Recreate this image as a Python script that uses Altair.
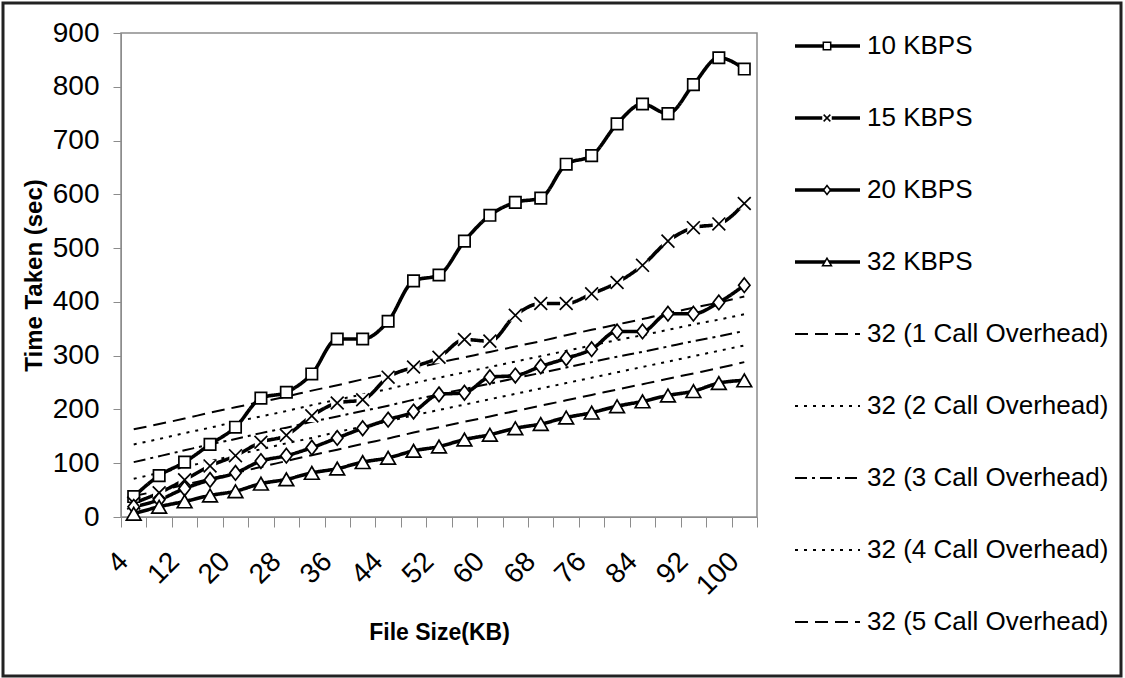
import altair as alt
import pandas as pd

# ---------------- data ----------------
file_sizes = [4, 8, 12, 16, 20, 24, 28, 32, 36, 40, 44, 48, 52,
              56, 60, 64, 68, 72, 76, 80, 84, 88, 92, 96, 100]

kbps10 = [38, 77, 102, 135, 167, 221, 232, 266, 331, 331, 364, 439, 450,
          513, 561, 585, 593, 656, 672, 731, 768, 750, 804, 854, 833]
kbps15 = [26, 45, 69, 95, 114, 139, 152, 188, 212, 218, 260, 279, 297,
          330, 327, 375, 397, 397, 415, 436, 468, 513, 538, 545, 583]
kbps20 = [19, 32, 53, 69, 82, 104, 114, 129, 147, 165, 181, 196, 228,
          231, 260, 263, 280, 295, 312, 345, 345, 378, 378, 399, 431]
kbps32 = [6, 19, 29, 40, 48, 62, 70, 82, 90, 102, 110, 123, 131,
          144, 153, 165, 173, 185, 194, 206, 215, 226, 234, 249, 254]
call1 = [39, 49, 60, 71, 82, 93, 104, 115, 125, 136, 146, 157, 167,
         177, 187, 197, 207, 217, 227, 237, 247, 257, 267, 277, 288]
call2 = [71, 82, 93, 104, 115, 126, 137, 147, 158, 168, 178, 189, 199,
         209, 219, 229, 239, 249, 259, 269, 279, 289, 299, 309, 319]
call3 = [102, 113, 124, 135, 145, 156, 166, 177, 187, 197, 207, 218, 228,
         238, 248, 258, 268, 278, 288, 298, 307, 317, 327, 336, 346]
call4 = [135, 145, 156, 166, 177, 187, 197, 208, 218, 228, 238, 249, 259,
         269, 279, 289, 299, 309, 319, 329, 338, 348, 358, 367, 377]
call5 = [163, 173, 183, 194, 204, 214, 224, 235, 245, 256, 266, 276, 287,
         297, 307, 317, 327, 338, 348, 358, 368, 379, 389, 399, 410]

main_names = ["10 KBPS", "15 KBPS", "20 KBPS", "32 KBPS"]
overhead_names = ["32 (1 Call Overhead)", "32 (2 Call Overhead)",
                  "32 (3 Call Overhead)", "32 (4 Call Overhead)",
                  "32 (5 Call Overhead)"]
series_names = main_names + overhead_names
series_values = [kbps10, kbps15, kbps20, kbps32, call1, call2, call3, call4, call5]

y_ticks = [0, 100, 200, 300, 400, 500, 600, 700, 800, 900]

# ---------------- styles ----------------
FONT = "Liberation Sans, Arial, sans-serif"
X_PATH = "M-1,-1L1,1M-1,1L1,-1"
DIAMOND_PATH = "M0,-1.15L0.9,0L0,1.15L-0.9,0Z"
dash_range = [[1, 0], [1, 0], [1, 0], [1, 0],
              [13, 7], [3, 6], [12, 5, 3, 5], [3, 6], [13, 7]]
marker_style = {
    "10 KBPS": ("square", 130, 55),
    "15 KBPS": (X_PATH, 165, 45),
    "20 KBPS": (DIAMOND_PATH, 160, 60),
    "32 KBPS": ("triangle-up", 215, 80),
}

rows = []
for name, vals in zip(series_names, series_values):
    for s, v in zip(file_sizes, vals):
        rows.append({"size": s, "series": name, "time": v})
df = pd.DataFrame(rows)
legend_df = pd.DataFrame({"series": series_names})

x_enc = alt.X(
    "size:O",
    bandPosition=0.5,
    scale=alt.Scale(type="band", domain=file_sizes, paddingInner=0, paddingOuter=0),
    axis=alt.Axis(
        title="File Size(KB)",
        labelAngle=-45, labelAlign="right", labelBaseline="middle",
        labelExpr="(datum.value - 4) % 8 == 0 ? datum.label : ''",
        tickBand="extent", tickSize=10, tickColor="#8c8c8c",
        domainColor="#8c8c8c", labelFont=FONT, labelFontSize=28,
        labelColor="black", labelPadding=30, labelOffset=-10,
        titleFont=FONT, titleFontSize=23, titleFontWeight="bold",
        titleColor="black", titlePadding=22, grid=False,
    ),
)
y_enc = alt.Y(
    "time:Q",
    scale=alt.Scale(domain=[0, 900], nice=False),
    axis=alt.Axis(
        title="Time Taken (sec)", values=y_ticks, grid=False,
        tickSize=8, tickColor="#8c8c8c", domainColor="#8c8c8c",
        labelFont=FONT, labelFontSize=28, labelColor="black", labelPadding=14,
        titleFont=FONT, titleFontSize=24, titleFontWeight="bold",
        titleColor="black", titlePadding=6,
    ),
)
dash_enc = alt.StrokeDash("series:N",
                          scale=alt.Scale(domain=series_names, range=dash_range),
                          legend=None)

base = alt.Chart(df)

overhead_lines = base.transform_filter(
    alt.FieldOneOfPredicate(field="series", oneOf=overhead_names)
).mark_line(color="black", strokeWidth=2, interpolate="monotone").encode(
    x=x_enc, y=y_enc, strokeDash=dash_enc, detail="series:N")

main_lines = base.transform_filter(
    alt.FieldOneOfPredicate(field="series", oneOf=main_names)
).mark_line(color="black", strokeWidth=3.6, interpolate="monotone").encode(
    x=x_enc, y=y_enc, strokeDash=dash_enc, detail="series:N")

x_plain = alt.X("size:O", bandPosition=0.5)
y_plain = alt.Y("time:Q")

# white background box behind the X markers (as in the original)
x_bg = base.transform_filter(alt.datum.series == "15 KBPS").mark_point(
    shape="square", filled=True, fill="white", opacity=1, size=150, strokeWidth=0
).encode(x=x_plain, y=y_plain)

marker_layers = []
for name in main_names:
    shp, sz, _ = marker_style[name]
    marker_layers.append(
        base.transform_filter(alt.datum.series == name).mark_point(
            shape=shp, filled=True, fill="white", stroke="black",
            strokeWidth=1.7, size=sz, opacity=1
        ).encode(x=x_plain, y=y_plain)
    )

main_layer = alt.layer(overhead_lines, main_lines, x_bg, *marker_layers)

# ---------------- legend ----------------
leg_y = alt.Y("series:N", axis=None,
              scale=alt.Scale(type="point", domain=series_names,
                              range=[13, 589], padding=0))
lbase = alt.Chart(legend_df)
leg_rules_main = lbase.transform_filter(
    alt.FieldOneOfPredicate(field="series", oneOf=main_names)
).mark_rule(color="black", strokeWidth=3.6).encode(
    x=alt.value(674), x2=alt.value(739), y=leg_y, strokeDash=dash_enc)
leg_rules_over = lbase.transform_filter(
    alt.FieldOneOfPredicate(field="series", oneOf=overhead_names)
).mark_rule(color="black", strokeWidth=2).encode(
    x=alt.value(674), x2=alt.value(739), y=leg_y, strokeDash=dash_enc)
leg_xbg = lbase.transform_filter(alt.datum.series == "15 KBPS").mark_point(
    shape="square", filled=True, fill="white", opacity=1, size=90, strokeWidth=0
).encode(x=alt.value(706), y=leg_y)
leg_markers = []
for name in main_names:
    shp, _, lsz = marker_style[name]
    leg_markers.append(
        lbase.transform_filter(alt.datum.series == name).mark_point(
            shape=shp, filled=True, fill="white", stroke="black",
            strokeWidth=1.5, size=lsz, opacity=1
        ).encode(x=alt.value(706), y=leg_y)
    )
leg_text = lbase.mark_text(align="left", baseline="middle", font=FONT,
                           fontSize=26, color="black").encode(
    x=alt.value(746), y=leg_y, text="series:N")

frame = alt.Chart(alt.Data(values=[{}])).mark_rect(
    fillOpacity=0, stroke="#222222", strokeWidth=3
).encode(x=alt.value(-118), x2=alt.value(1000), y=alt.value(-30), y2=alt.value(643))

legend_layer = alt.layer(leg_rules_main, leg_rules_over, leg_xbg, *leg_markers,
                         leg_text, frame)

chart = alt.layer(main_layer, legend_layer).resolve_scale(
    y="independent"
).properties(
    width=636, height=484,
    autosize=alt.AutoSizeParams(type="none"),
    padding={"left": 121, "top": 33, "right": 368, "bottom": 161},
    background="white",
).configure_view(stroke="#8c8c8c", strokeWidth=1.5)

chart.save("out.html", embed_options={"renderer": "svg", "actions": False})
